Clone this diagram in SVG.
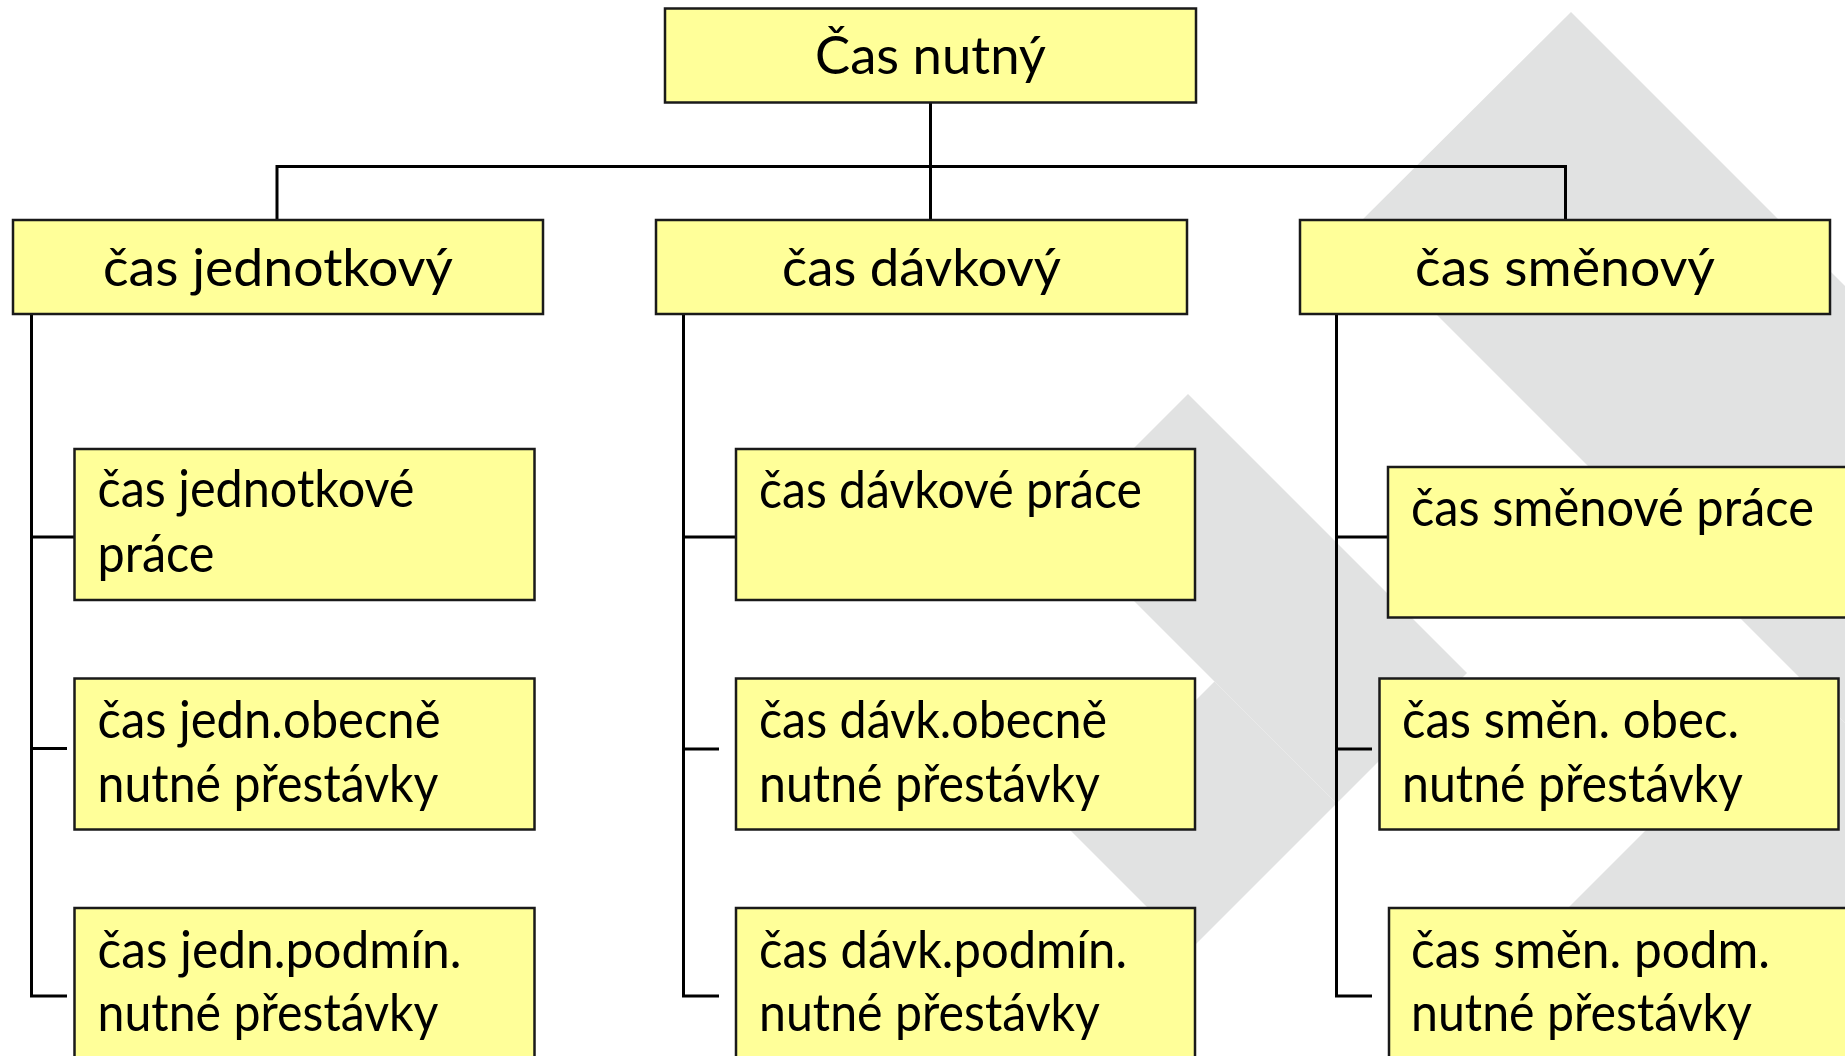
<svg xmlns="http://www.w3.org/2000/svg" width="1845" height="1056" viewBox="0 0 1845 1056">
<style>
.bg{fill:#e1e2e2;stroke:none}
.box{fill:#ffff99;stroke:#1a1a1a;stroke-width:2.5}
.t{font-family:Lato,Carlito,"Liberation Sans",sans-serif;font-size:53px;fill:#000}
.c{text-anchor:middle}
.ln{fill:none;stroke:#000;stroke-width:3;stroke-linecap:butt;stroke-linejoin:miter}
</style>
<rect width="1845" height="1056" fill="#fff"/>
<g id="background">
<polygon class="bg" points="1571,12 1845,286 1845,723 1352,230"/>
<polygon class="bg" points="1188,394 1467,673 1336.5,803.5 1057.5,524.5"/>
<polygon class="bg" points="1068,828 1214.5,681.5 1336.5,803.5 1190,950"/>
<polygon class="bg" points="1504.5,971.5 1799,677 2400,1278 2105.5,1572.5"/>
</g>
<g id="connectors">
<path class="ln" d="M930.5,97 V220"/>
<path class="ln" d="M277,220 V166.5 H1565.5 V220"/>
<path class="ln" d="M31.5,308 V996 H67 M31.5,537 H84 M31.5,748.5 H67"/>
<path class="ln" d="M683.5,308 V996 H719 M683.5,537 H736 M683.5,749 H719"/>
<path class="ln" d="M1336.5,308 V996 H1372 M1336.5,537 H1388 M1336.5,749 H1372"/>
</g>
<g id="n0"><rect class="box" x="665" y="8.5" width="531" height="94"/><text class="t c" x="930.5" y="74" textLength="231" lengthAdjust="spacingAndGlyphs">Čas nutný</text></g>
<g id="n1"><rect class="box" x="13" y="220" width="530" height="94"/><text class="t" x="103" y="286" textLength="350" lengthAdjust="spacingAndGlyphs">čas jednotkový</text></g>
<g id="n2"><rect class="box" x="656" y="220" width="531" height="94"/><text class="t" x="782" y="286" textLength="279" lengthAdjust="spacingAndGlyphs">čas dávkový</text></g>
<g id="n3"><rect class="box" x="1300" y="220" width="530" height="94"/><text class="t" x="1415" y="286" textLength="300" lengthAdjust="spacingAndGlyphs">čas směnový</text></g>
<g id="n11"><rect class="box" x="74.5" y="449" width="460" height="151"/><text class="t" x="97.5" y="507" textLength="317" lengthAdjust="spacingAndGlyphs">čas jednotkové</text><text class="t" x="97.5" y="572" textLength="117" lengthAdjust="spacingAndGlyphs">práce</text></g>
<g id="n12"><rect class="box" x="74.5" y="678.5" width="460" height="151"/><text class="t" x="97.5" y="738" textLength="343" lengthAdjust="spacingAndGlyphs">čas jedn.obecně</text><text class="t" x="97.5" y="802" textLength="341" lengthAdjust="spacingAndGlyphs">nutné přestávky</text></g>
<g id="n13"><rect class="box" x="74.5" y="908" width="460" height="151"/><text class="t" x="97.5" y="968" textLength="364" lengthAdjust="spacingAndGlyphs">čas jedn.podmín.</text><text class="t" x="97.5" y="1031" textLength="341" lengthAdjust="spacingAndGlyphs">nutné přestávky</text></g>
<g id="n21"><rect class="box" x="736" y="449" width="459" height="151"/><text class="t" x="759" y="508" textLength="383" lengthAdjust="spacingAndGlyphs">čas dávkové práce</text></g>
<g id="n22"><rect class="box" x="736" y="678.5" width="459" height="151"/><text class="t" x="759" y="738" textLength="348" lengthAdjust="spacingAndGlyphs">čas dávk.obecně</text><text class="t" x="759" y="802" textLength="341" lengthAdjust="spacingAndGlyphs">nutné přestávky</text></g>
<g id="n23"><rect class="box" x="736" y="908" width="459" height="151"/><text class="t" x="759" y="968" textLength="368" lengthAdjust="spacingAndGlyphs">čas dávk.podmín.</text><text class="t" x="759" y="1031" textLength="341" lengthAdjust="spacingAndGlyphs">nutné přestávky</text></g>
<g id="n31"><rect class="box" x="1388" y="467" width="462" height="150.5"/><text class="t" x="1411" y="526" textLength="403" lengthAdjust="spacingAndGlyphs">čas směnové práce</text></g>
<g id="n32"><rect class="box" x="1379.5" y="678.5" width="459" height="151"/><text class="t" x="1402" y="738" textLength="337" lengthAdjust="spacingAndGlyphs">čas směn. obec.</text><text class="t" x="1402" y="802" textLength="341" lengthAdjust="spacingAndGlyphs">nutné přestávky</text></g>
<g id="n33"><rect class="box" x="1389" y="908" width="462" height="151"/><text class="t" x="1411" y="968" textLength="359" lengthAdjust="spacingAndGlyphs">čas směn. podm.</text><text class="t" x="1411" y="1031" textLength="341" lengthAdjust="spacingAndGlyphs">nutné přestávky</text></g>
</svg>
